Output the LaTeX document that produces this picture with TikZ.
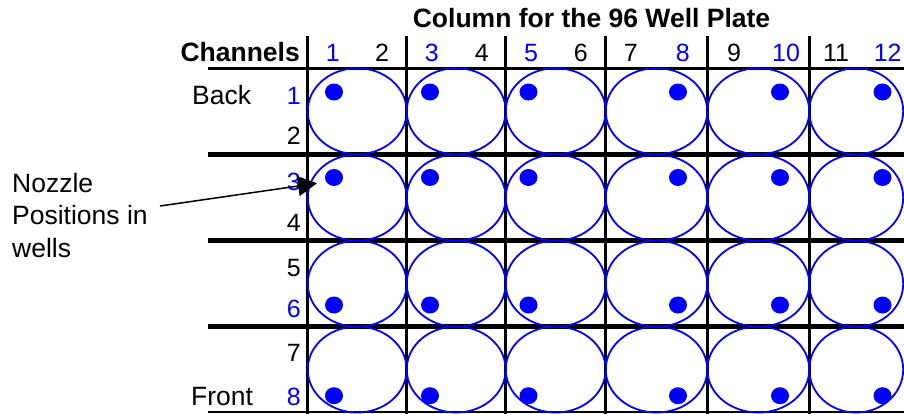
\documentclass[tikz,border=0pt]{standalone}
\usepackage{fontspec}
\setmainfont{Liberation Sans}
\usetikzlibrary{arrows.meta}
\definecolor{wellblue}{RGB}{0,0,255}
\tikzset{
  txt/.style={inner sep=0pt, font=\fontsize{25}{30}\selectfont},
  wordtxt/.style={inner sep=0pt, font=\fontsize{26.5}{32}\selectfont},
  boldtxt/.style={inner sep=0pt, font=\fontsize{26.5}{32}\selectfont\bfseries},
  bluetxt/.style={txt, text=wellblue},
  vline/.style={line width=3pt},
  thinh/.style={line width=3pt},
  thickh/.style={line width=5pt},
  well/.style={draw=wellblue, line width=1.8pt},
  nozzle/.style={fill=wellblue},
  pointer/.style={line width=1.5pt, -{Triangle[length=19pt,width=20pt]}}
}
\begin{document}
\begin{tikzpicture}[x=1pt,y=-1pt]
\useasboundingbox (0,0) rectangle (904,413);
\clip (0,0) rectangle (904,413);
% grid
\foreach \vx in {307.7,406.7,505.7,605.7,707.3,809.3}
  \draw[vline] (\vx,36) -- (\vx,414);
\draw[thinh] (208,68) -- (904,68);
\foreach \hy in {154.5,240.7,326.7}
  \draw[thickh] (208,\hy) -- (904,\hy);
\draw[line width=2pt] (208,412.3) -- (904,412.3);
% wells
\foreach \cx/\rx in {357.2/49.5,456.2/49.5,555.7/50,656.5/50.8,758.3/51,856.2/47}
  \foreach \cy in {111.2,197.6,283.7,369.5}
    \draw[well] (\cx,\cy) ellipse [x radius=\rx, y radius=43];
% nozzle positions
\foreach \dx in {334,430,528.5,678,780,882.5}
  \foreach \dy in {92,177.5,305,395.7}
    \fill[nozzle] (\dx,\dy) ellipse [x radius=9, y radius=8.5];
% title and headers
\node[boldtxt, anchor=base] (title) at (591.5,27.5) {Column for the 96 Well Plate};
\node[boldtxt, anchor=base east] (channels) at (300,61) {Channels};
\node[bluetxt, anchor=base] (c1) at (332.7,61) {1};
\node[txt, anchor=base] (c2) at (382,61) {2};
\node[bluetxt, anchor=base] (c3) at (431.7,61) {3};
\node[txt, anchor=base] (c4) at (481.7,61) {4};
\node[bluetxt, anchor=base] (c5) at (531,61) {5};
\node[txt, anchor=base] (c6) at (580.7,61) {6};
\node[txt, anchor=base] (c7) at (630.7,61) {7};
\node[bluetxt, anchor=base] (c8) at (682.7,61) {8};
\node[txt, anchor=base] (c9) at (734,61) {9};
\node[bluetxt, anchor=base] (c10) at (786,61) {10};
\node[txt, anchor=base] (c11) at (836,61) {11};
\node[bluetxt, anchor=base] (c12) at (887.7,61) {12};
% rows
\node[wordtxt, anchor=base west] (back) at (192,104) {Back};
\node[wordtxt, anchor=base west] (front) at (191,405) {Front};
\node[bluetxt, anchor=base east] (r1) at (301,104) {1};
\node[txt, anchor=base east] (r2) at (301,144) {2};
\node[bluetxt, anchor=base east] (r3) at (301,190) {3};
\node[txt, anchor=base east] (r4) at (301,231.7) {4};
\node[txt, anchor=base east] (r5) at (301,276.7) {5};
\node[bluetxt, anchor=base east] (r6) at (301,317.3) {6};
\node[txt, anchor=base east] (r7) at (301,361.7) {7};
\node[bluetxt, anchor=base east] (r8) at (301,405) {8};
% annotation
\node[inner sep=0pt, anchor=north west, align=left, font=\fontsize{26.5}{32.5}\selectfont] (label) at (12,173) {Nozzle\\Positions in\\wells};
\coordinate (arrstart) at (160,206);
\coordinate (nozzletip) at (317,183.3);
\draw[pointer] (arrstart) -- (nozzletip);
\end{tikzpicture}
\end{document}
